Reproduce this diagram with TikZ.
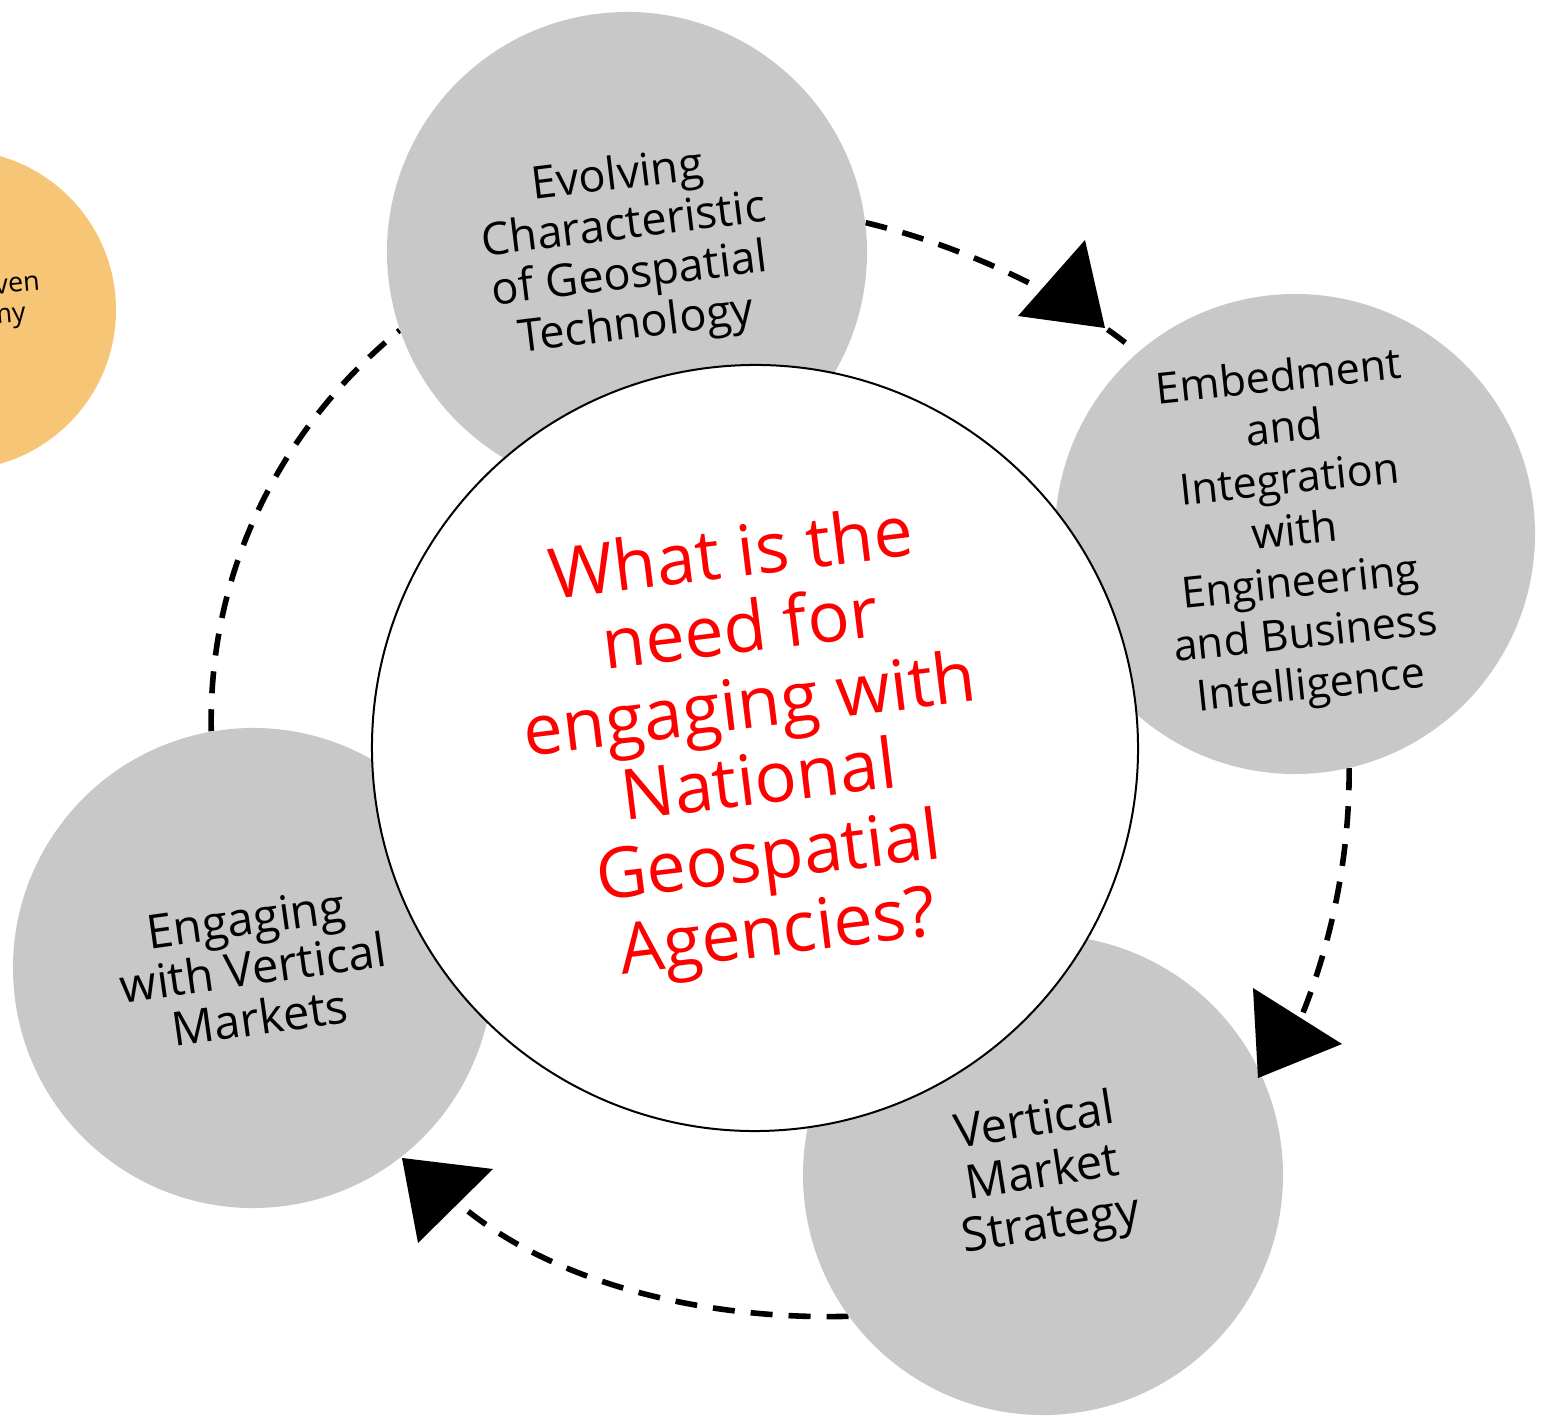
\documentclass[tikz,border=0pt]{standalone}
\usepackage{fontspec}
\setmainfont{Open Sans}
\definecolor{gcol}{RGB}{200,200,200}
\definecolor{ocol}{RGB}{247,197,118}
\definecolor{rcol}{RGB}{255,0,0}
\pgfdeclarelayer{bg}
\pgfsetlayers{bg,main}
\begin{document}
\begin{tikzpicture}[x=0.5pt,y=-0.5pt,
  gc/.style={circle,fill=gcol,inner sep=0pt,minimum size=240pt,align=center,text=black},
  hub/.style={circle,draw=black,line width=1pt,fill=white,inner sep=0pt,minimum size=383pt,
    align=center,rotate=7,font=\fontsize{35}{38}\selectfont,text=rcol},
  oc/.style={circle,fill=ocol,inner sep=0pt,minimum size=160pt},
  otext/.style={align=center,rotate=5,font=\fontsize{13.5}{15}\selectfont},
  dsh/.style={line width=2.8pt,dash pattern=on 11pt off 8pt},
  tip/.style={fill=black}]
\clip (0,0) rectangle (1554,1422);
% side circle
\node[oc] (side) at (-44,310) {};
\node[otext] (sidetext) at (-33,305) {Data Driven\\Economy};
% gray circles
\node[gc,rotate=7,font=\fontsize{22.5}{25}\selectfont] (top) at (627,252) {Evolving\\Characteristic\\of Geospatial\\Technology};
\node[gc,rotate=6,font=\fontsize{21.5}{25.8}\selectfont] (right) at (1295,534) {Embedment\\and\\Integration\\with\\Engineering\\and Business\\Intelligence};
\node[gc,rotate=9,font=\fontsize{23.5}{26}\selectfont] (bot) at (1043,1175) {Vertical\\Market\\Strategy};
\node[gc,rotate=8,font=\fontsize{23.5}{25}\selectfont] (left) at (253,968) {Engaging\\with Vertical\\Markets};
% hub
\node[hub] (hub) at (755,748) {What is the\\need for\\engaging with\\National\\Geospatial\\Agencies?};
% dashed connectors (beneath the circles)
\coordinate (endR) at (1300,1020);
\coordinate (endB) at (458,1203);
\begin{pgfonlayer}{bg}
\draw[dsh] (top.0) .. controls (960,245) and (1070,295) .. (right.125);
\draw[dsh] (right.-83) .. controls (1350,870) and (1325,960) .. (endR);
\draw[dsh] (bot.207) .. controls (720,1320) and (560,1290) .. (endB);
\draw[dsh] (left.92) .. controls (208,560) and (290,420) .. (top.192);
\end{pgfonlayer}
% arrow heads
\fill[tip] (1085,240) -- (1018,316) -- (1105,328) -- cycle;
\fill[tip] (1253,988) -- (1342,1044) -- (1258,1078) -- cycle;
\fill[tip] (402,1158) -- (493,1169) -- (418,1243) -- cycle;
\end{tikzpicture}
\end{document}
